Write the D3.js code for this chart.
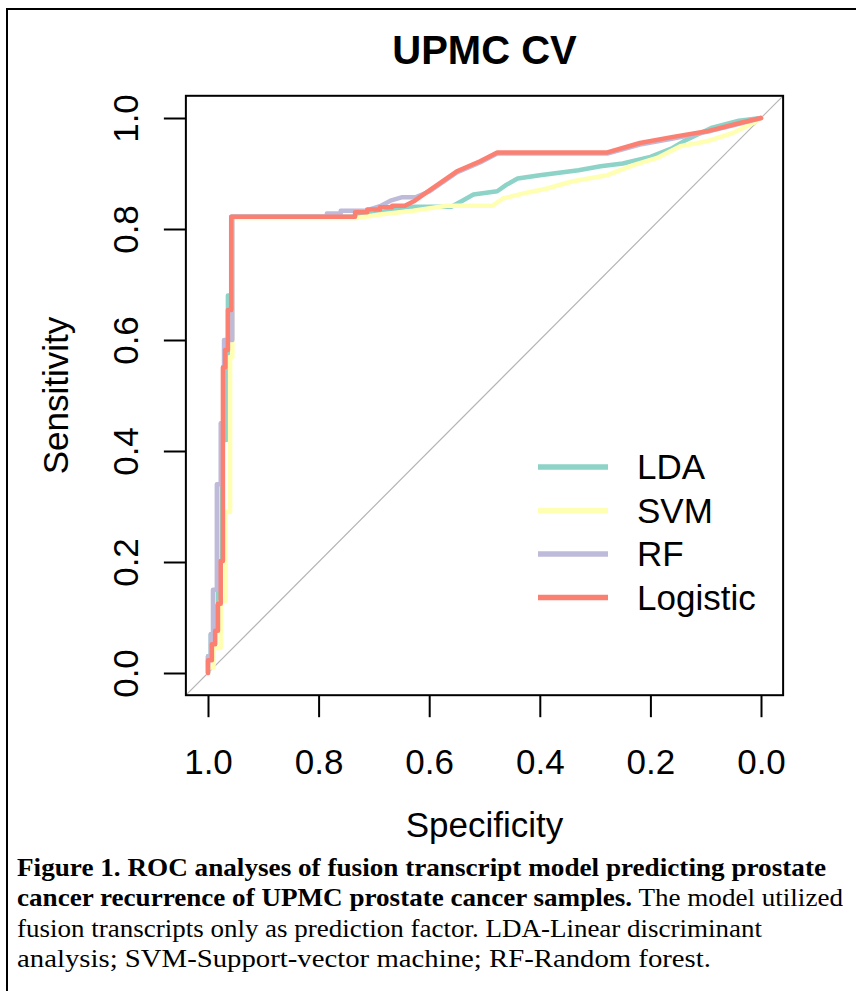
<!DOCTYPE html>
<html>
<head>
<meta charset="utf-8">
<script src="https://cdn.jsdelivr.net/npm/d3@7"></script>
<style>
  html, body { margin: 0; padding: 0; background: #fff; }
  svg { display: block; }
</style>
</head>
<body>
<svg id="chart"></svg>
<script>
// Размеры страницы
const width = 856;
const height = 991;

// Данные ROC: [specificity, sensitivity]
const series = ["LDA", "SVM", "RF", "Logistic"];
const colors = ["#8DD3C7", "#FFFFB3", "#BEBADA", "#FB8072"];

const lda = [[1,0],[1,0.03],[0.995,0.03],[0.995,0.07],[0.989,0.07],[0.989,0.12],[0.982,0.12],[0.982,0.20],
  [0.975,0.20],[0.975,0.42],[0.967,0.42],[0.967,0.55],[0.964,0.55],[0.964,0.68],[0.958,0.68],[0.958,0.822],
  [0.740,0.822],[0.700,0.828],[0.660,0.835],[0.640,0.840],[0.560,0.840],[0.540,0.851],[0.520,0.862],
  [0.477,0.868],[0.460,0.880],[0.440,0.891],[0.400,0.897],[0.330,0.906],[0.290,0.913],[0.250,0.918],
  [0.200,0.930],[0.160,0.946],[0.140,0.958],[0.090,0.982],[0.040,0.995],[0,1]];

const svm = [[1,0],[1,0.01],[0.990,0.01],[0.990,0.045],[0.977,0.045],[0.977,0.13],[0.968,0.13],[0.968,0.29],
  [0.960,0.29],[0.960,0.57],[0.956,0.57],[0.956,0.820],[0.731,0.820],[0.689,0.826],[0.629,0.833],
  [0.568,0.842],[0.485,0.842],[0.467,0.855],[0.430,0.864],[0.387,0.873],[0.340,0.886],[0.278,0.897],
  [0.231,0.915],[0.188,0.928],[0.146,0.949],[0.098,0.958],[0.051,0.973],[0.014,0.991],[0,1]];

const rf = [[1,0],[1,0.03],[0.995,0.03],[0.995,0.07],[0.991,0.07],[0.991,0.15],[0.984,0.15],[0.984,0.34],
  [0.977,0.34],[0.977,0.45],[0.971,0.45],[0.971,0.60],[0.956,0.60],[0.956,0.822],[0.785,0.822],
  [0.785,0.828],[0.760,0.828],[0.760,0.833],[0.715,0.833],[0.689,0.841],[0.670,0.851],[0.650,0.857],
  [0.625,0.857],[0.599,0.868],[0.550,0.902],[0.508,0.920],[0.477,0.936],[0.278,0.936],[0.219,0.952],
  [0.159,0.963],[0.098,0.975],[0.038,0.990],[0,1]];

const logistic = [[1,0],[1,0.023],[0.993,0.023],[0.993,0.052],[0.987,0.052],[0.987,0.076],[0.982,0.076],
  [0.982,0.125],[0.977,0.125],[0.977,0.202],[0.973,0.202],[0.973,0.551],[0.969,0.551],[0.969,0.582],
  [0.964,0.582],[0.964,0.654],[0.958,0.654],[0.958,0.822],[0.734,0.822],[0.734,0.830],[0.712,0.830],
  [0.712,0.835],[0.689,0.835],[0.689,0.839],[0.667,0.839],[0.667,0.842],[0.644,0.842],[0.626,0.851],
  [0.599,0.870],[0.550,0.904],[0.508,0.922],[0.477,0.938],[0.278,0.938],[0.219,0.955],[0.159,0.966],
  [0.098,0.976],[0.038,0.991],[0,1]];

const curves = [lda, svm, rf, logistic];
const ticks = [1.0, 0.8, 0.6, 0.4, 0.2, 0.0];

const captionLines = [
  [["Figure 1. ROC analyses of fusion transcript model predicting prostate", true]],
  [["cancer recurrence of UPMC prostate cancer samples.", true], [" The model utilized", false]],
  [["fusion transcripts only as prediction factor. LDA-Linear discriminant", false]],
  [["analysis; SVM-Support-vector machine; RF-Random forest.", false]]
];
// ширина строк подписи в исходнике
const captionWidths = [809, 826, 745, 694];

// Шкалы (R: область графика расширена на 4%)
const x = d3.scaleLinear().domain([1, 0]).range([208, 761]);
const y = d3.scaleLinear().domain([0, 1]).range([673, 118]);
const box = { left: x(1.04), right: x(-0.04), top: y(1.04), bottom: y(-0.04) };

const font = "'Liberation Sans', Arial, sans-serif";

const svg = d3.select("#chart")
  .attr("width", width)
  .attr("height", height)
  .attr("viewBox", [0, 0, width, height]);

// рамка рисунка
svg.append("path")
  .attr("d", `M7,${height + 5} V9 H${width + 5}`)
  .attr("fill", "none")
  .attr("stroke", "#000")
  .attr("stroke-width", 2);

// title
svg.append("text")
  .attr("x", (box.left + box.right) / 2)
  .attr("y", 64)
  .attr("text-anchor", "middle")
  .style("font", `bold 40px ${font}`)
  .text("UPMC CV");

// диагональ
svg.append("line")
  .attr("x1", x(1.04)).attr("y1", y(-0.04))
  .attr("x2", x(-0.04)).attr("y2", y(1.04))
  .attr("stroke", "#b4b4b4")
  .attr("stroke-width", 1.2);

// кривые
const line = d3.line().x(d => x(d[0])).y(d => y(d[1]));
svg.append("g")
  .selectAll("path")
  .data(curves)
  .join("path")
  .attr("d", line)
  .attr("fill", "none")
  .attr("stroke", (d, i) => colors[i])
  .attr("stroke-width", 4.5)
  .attr("stroke-linejoin", "round")
  .attr("stroke-linecap", "round");

// box
svg.append("rect")
  .attr("x", box.left).attr("y", box.top)
  .attr("width", box.right - box.left).attr("height", box.bottom - box.top)
  .attr("fill", "none")
  .attr("stroke", "#000")
  .attr("stroke-width", 2);

// оси
const gx = svg.append("g")
  .attr("transform", `translate(0,${box.bottom})`)
  .call(d3.axisBottom(x).tickValues(ticks).tickFormat(d3.format(".1f")).tickSize(22).tickSizeOuter(0));
gx.select(".domain").remove();
gx.selectAll(".tick line").attr("stroke", "#000").attr("stroke-width", 2);
gx.selectAll(".tick text")
  .attr("y", 79).attr("dy", 0)
  .attr("fill", "#000")
  .style("font", `35px ${font}`);

const gy = svg.append("g")
  .attr("transform", `translate(${box.left},0)`)
  .call(d3.axisLeft(y).tickValues(ticks).tickFormat(d3.format(".1f")).tickSize(22).tickSizeOuter(0));
gy.select(".domain").remove();
gy.selectAll(".tick line").attr("stroke", "#000").attr("stroke-width", 2);
gy.selectAll(".tick text")
  .attr("transform", "rotate(-90)")
  .attr("x", 0).attr("y", -(box.left - 138)).attr("dy", 0)
  .attr("text-anchor", "middle")
  .attr("fill", "#000")
  .style("font", `35px ${font}`);

// подписи осей
svg.append("text")
  .attr("x", (box.left + box.right) / 2)
  .attr("y", 837)
  .attr("text-anchor", "middle")
  .style("font", `35px ${font}`)
  .text("Specificity");

svg.append("text")
  .attr("transform", `translate(68,${(box.top + box.bottom) / 2}) rotate(-90)`)
  .attr("text-anchor", "middle")
  .style("font", `35px ${font}`)
  .text("Sensitivity");

// legend
const legend = svg.append("g")
  .selectAll("g")
  .data(series)
  .join("g")
  .attr("transform", (d, i) => `translate(538,${467 + i * 43.5})`);

legend.append("line")
  .attr("x1", 0).attr("x2", 70)
  .attr("stroke", (d, i) => colors[i])
  .attr("stroke-width", 5.5);

legend.append("text")
  .attr("x", 99).attr("y", 12)
  .style("font", `35px ${font}`)
  .text(d => d);

// подпись к рисунку
const cap = svg.append("g")
  .selectAll("text")
  .data(captionLines)
  .join("text")
  .attr("x", 17)
  .attr("y", (d, i) => 876 + i * 30.3)
  .attr("textLength", (d, i) => captionWidths[i])
  .attr("lengthAdjust", "spacingAndGlyphs")
  .style("font", "26px 'Liberation Serif', 'Times New Roman', serif");

cap.selectAll("tspan")
  .data(d => d)
  .join("tspan")
  .attr("font-weight", d => d[1] ? "bold" : "normal")
  .text(d => d[0]);
</script>
</body>
</html>
